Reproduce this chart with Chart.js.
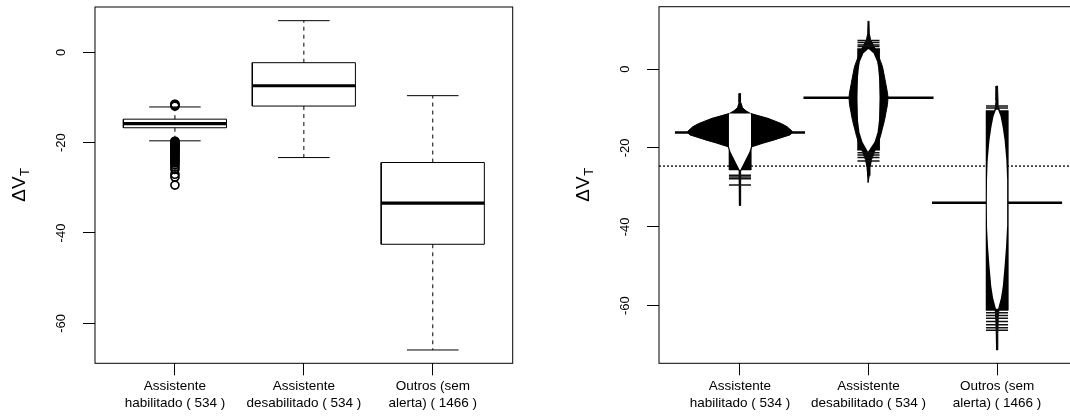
<!DOCTYPE html>
<html>
<head>
<meta charset="utf-8">
<script src="https://cdn.jsdelivr.net/npm/chart.js@4.4.1/dist/chart.umd.min.js"></script>
<style>
  html, body { margin: 0; padding: 0; background: #fff; overflow: hidden; width: 1070px; height: 416px; }
  .panel { position: absolute; top: 0; height: 416px; }
  #leftPanel  { left: 0;     width: 540px; }
  #rightPanel { left: 540px; width: 545px; }
  canvas { display: block; }
</style>
</head>
<body>
<div class="panel" id="leftPanel"><canvas id="boxChart" width="540" height="416"></canvas></div>
<div class="panel" id="rightPanel"><canvas id="beanChart" width="545" height="416"></canvas></div>
<script>
// ── Categories / ticks ────────────────────────────────────────────────────────
const GROUP_LINE1 = ["Assistente", "Assistente", "Outros (sem"];
const GROUP_LINE2 = ["habilitado", "desabilitado", "alerta)"];
const GROUP_N     = [534, 534, 1466];
const Y_TICKS     = [0, -20, -40, -60];
const AXIS_TITLE  = "ΔV";
const AXIS_SUB    = "T";

// ── Boxplot stats (left panel) ────────────────────────────────────────────────
const BOX_LOW  = [-19.6, -23.3, -65.9];
const BOX_Q1   = [-16.7, -11.9, -42.5];
const BOX_MED  = [-15.8,  -7.4, -33.4];
const BOX_Q3   = [-14.8,  -2.3, -24.4];
const BOX_HIGH = [-12.1,   7.0,  -9.6];
const OUT_HAB_HIGH = [-11.5, -11.6, -11.8, -11.9];
const OUT_HAB_LOW  = [-19.7, -19.85, -20.0, -20.2, -20.35, -20.5, -20.7, -20.9, -21.1, -21.3,
                      -21.5, -21.7, -22.0, -22.2, -22.5, -22.7, -23.0, -23.3, -23.6, -23.9,
                      -24.2, -24.5, -24.9, -25.4, -25.9, -27.0, -27.6, -29.4];

// ── Beanplot (right panel) ────────────────────────────────────────────────────
const OVERALL_MEAN = -24.6;
const BEAN_MEAN    = [-16.1, -7.3, -33.9];
// density outline: y values and relative half width (1 = widest bean)
const DENS1_Y = [-6.2, -8.5, -9.8, -10.6, -11.2, -11.8, -12.5, -13.8, -14.6, -15.5, -16.0, -16.7, -18.0, -18.8, -19.7, -21.0, -22.5, -24.0, -25.2, -26.0, -30.0, -34.6];
const DENS1_W = [0.011, 0.017, 0.047, 0.113, 0.189, 0.34, 0.528, 0.774, 0.887, 0.962, 1.0, 0.943, 0.642, 0.434, 0.226, 0.179, 0.123, 0.066, 0.025, 0.015, 0.011, 0.009];
const DENS2_Y = [12.2, 9.0, 7.5, 6.0, 4.0, 2.0, 0.6, -2.0, -4.0, -6.0, -7.3, -9.0, -11.0, -13.0, -15.0, -17.0, -19.0, -21.0, -23.0, -25.0, -27.0, -28.8];
const DENS2_W = [0.009, 0.015, 0.038, 0.094, 0.17, 0.226, 0.264, 0.302, 0.33, 0.358, 0.368, 0.358, 0.33, 0.302, 0.264, 0.226, 0.179, 0.113, 0.057, 0.028, 0.015, 0.009];
const DENS3_Y = [-4.3, -8.0, -9.5, -12.0, -14.6, -18.0, -23.0, -28.0, -34.0, -40.0, -45.0, -50.0, -55.0, -58.0, -60.6, -63.0, -67.0, -71.2];
const DENS3_W = [0.009, 0.019, 0.028, 0.066, 0.104, 0.142, 0.175, 0.189, 0.192, 0.189, 0.17, 0.142, 0.109, 0.075, 0.038, 0.023, 0.015, 0.009];
// white part of the bean lines (inside the density)
const WHITE1_Y = [-11.3, -19.7, -21.0, -22.5, -24.0, -25.6];
const WHITE1_W = [0.208, 0.208, 0.179, 0.123, 0.066, 0.006];
const WHITE2_Y = [5.0, 4.0, 2.0, 0.6, -2.0, -7.3, -13.0, -16.0, -18.5, -21.0];
const WHITE2_W = [0.009, 0.094, 0.16, 0.179, 0.198, 0.208, 0.198, 0.17, 0.113, 0.009];
const WHITE3_Y = [-10.3, -12.0, -14.6, -18.0, -23.0, -28.0, -34.0, -40.0, -45.0, -50.0, -55.0, -58.0, -60.8];
const WHITE3_W = [0.02, 0.066, 0.104, 0.142, 0.175, 0.189, 0.192, 0.189, 0.17, 0.142, 0.109, 0.075, 0.02];
// dense band of bean lines, and isolated lines outside it
const BAND_TOP    = [-11.3,  5.2, -10.5];
const BAND_BOTTOM = [-25.6, -20.6, -61.2];
const STRIPES1 = [-26.9, -27.4, -27.8, -29.4];
const STRIPES2 = [7.2, 6.7, 6.1, 5.7, -21.2, -21.8, -22.4, -23.3];
const STRIPES3 = [-9.4, -9.9, -61.8, -62.5, -63.2, -64.0, -64.8, -65.6, -66.2];

// ── Layout / style constants ──────────────────────────────────────────────────
const FONT = "'Liberation Sans', Arial, Helvetica, sans-serif";
const BOX_HALF   = 0.4;     // boxwex 0.8
const CAP_HALF   = 0.2;
const BEAN_SCALE = 0.4125;  // x units for relative width 1
const LINE_HALF  = 0.208;   // relative half width of bean lines
const AVG_HALF   = 0.506;   // bean average line half width

const pts = arr => arr.map(([x, y]) => ({ x, y }));
const seg = (points, extra) => Object.assign({
  data: pts(points), borderColor: "#000", borderWidth: 1, pointRadius: 0, fill: false, tension: 0
}, extra);

// ── Shared plugin: frame, rotated y labels, axis title ────────────────────────
const framePlugin = {
  id: "frame",
  afterDraw(chart) {
    const { ctx, chartArea: a, scales: { y } } = chart;
    ctx.save();
    ctx.strokeStyle = "#000";
    ctx.lineWidth = 1;
    ctx.strokeRect(a.left, a.top, a.right - a.left, a.bottom - a.top);

    ctx.fillStyle = "#000";
    ctx.font = `13px ${FONT}`;
    ctx.textAlign = "center";
    ctx.textBaseline = "middle";
    y.ticks.forEach(t => {
      ctx.save();
      ctx.translate(a.left - 33.5, y.getPixelForValue(t.value));
      ctx.rotate(-Math.PI / 2);
      ctx.fillText(String(t.value), 0, 0);
      ctx.restore();
    });

    // ΔV with subscript T
    ctx.translate(a.left - 75, (a.top + a.bottom) / 2);
    ctx.rotate(-Math.PI / 2);
    ctx.textAlign = "left";
    ctx.font = `19px ${FONT}`;
    const w1 = ctx.measureText(AXIS_TITLE).width;
    ctx.font = `13px ${FONT}`;
    const w2 = ctx.measureText(AXIS_SUB).width;
    const x0 = -(w1 + w2) / 2;
    ctx.font = `19px ${FONT}`;
    ctx.fillText(AXIS_TITLE, x0, 0);
    ctx.font = `13px ${FONT}`;
    ctx.fillText(AXIS_SUB, x0 + w1 + 0.5, 5);
    ctx.restore();
  }
};

function makeOptions(xMin, xMax, yMin, yMax, yAxisWidth, pad) {
  const grid = { display: true, drawOnChartArea: false, drawTicks: true, tickLength: 12, color: "#000", lineWidth: 1 };
  return {
    responsive: false,
    animation: false,
    events: [],
    layout: { padding: pad },
    plugins: { legend: { display: false }, tooltip: { enabled: false } },
    scales: {
      x: {
        type: "linear", min: xMin, max: xMax,
        afterBuildTicks: s => { s.ticks = GROUP_N.map((_, i) => ({ value: i + 1 })); },
        afterFit: s => { s.height = 52.7; },
        grid, border: { display: false },
        ticks: {
          color: "#000", padding: 3, maxRotation: 0, autoSkip: false,
          font: { family: FONT, size: 13.5, lineHeight: 1.237 },
          callback: v => {
            const i = Math.round(v) - 1;
            return [GROUP_LINE1[i], `${GROUP_LINE2[i]} ( ${GROUP_N[i]} )`];
          }
        }
      },
      y: {
        type: "linear", min: yMin, max: yMax,
        afterBuildTicks: s => { s.ticks = Y_TICKS.map(v => ({ value: v })); },
        afterFit: s => { s.width = yAxisWidth; },
        grid, border: { display: false },
        ticks: { display: false }
      }
    }
  };
}

// ── Left: boxplot ─────────────────────────────────────────────────────────────
const boxSets = [];
GROUP_N.forEach((_, i) => {
  const c = i + 1;
  boxSets.push(seg([[c - BOX_HALF, BOX_Q1[i]], [c + BOX_HALF, BOX_Q1[i]], [c + BOX_HALF, BOX_Q3[i]],
                    [c - BOX_HALF, BOX_Q3[i]], [c - BOX_HALF, BOX_Q1[i]]]));
  boxSets.push(seg([[c - BOX_HALF, BOX_MED[i]], [c + BOX_HALF, BOX_MED[i]]], { borderWidth: 3.2 }));
  boxSets.push(seg([[c, BOX_Q3[i]], [c, BOX_HIGH[i]]], { borderDash: [4, 4] }));
  boxSets.push(seg([[c, BOX_Q1[i]], [c, BOX_LOW[i]]], { borderDash: [4, 4] }));
  boxSets.push(seg([[c - CAP_HALF, BOX_HIGH[i]], [c + CAP_HALF, BOX_HIGH[i]]]));
  boxSets.push(seg([[c - CAP_HALF, BOX_LOW[i]], [c + CAP_HALF, BOX_LOW[i]]]));
});
boxSets.push({
  data: OUT_HAB_HIGH.concat(OUT_HAB_LOW).map(v => ({ x: 1, y: v })),
  showLine: false, pointRadius: 4, pointStyle: "circle",
  pointBorderColor: "#000", pointBackgroundColor: "rgba(0,0,0,0)", pointBorderWidth: 1.7
});

new Chart(document.getElementById("boxChart"), {
  type: "line",
  data: { datasets: boxSets },
  options: makeOptions(0.38, 3.62, -68.85, 10.03, 95, { left: 0, top: 7, right: 27.3, bottom: 0 }),
  plugins: [framePlugin]
});

// ── Right: beanplot ───────────────────────────────────────────────────────────
function beanPoly(c, ys, ws) {
  const left  = ys.map((y, k) => [c - ws[k] * BEAN_SCALE, y]);
  const right = ys.map((y, k) => [c + ws[k] * BEAN_SCALE, y]).reverse();
  return left.concat(right, [left[0]]);
}
const DENS_Y  = [DENS1_Y, DENS2_Y, DENS3_Y];
const DENS_W  = [DENS1_W, DENS2_W, DENS3_W];
const WHITE_Y = [WHITE1_Y, WHITE2_Y, WHITE3_Y];
const WHITE_W = [WHITE1_W, WHITE2_W, WHITE3_W];
const STRIPES = [STRIPES1, STRIPES2, STRIPES3];

const beanLayers = [];   // bottom first
beanLayers.push(seg([[0.37, OVERALL_MEAN], [3.63, OVERALL_MEAN]], { borderDash: [2, 2], borderWidth: 1.3 }));
GROUP_N.forEach((_, i) => {
  const c = i + 1;
  beanLayers.push(seg([[c - AVG_HALF, BEAN_MEAN[i]], [c + AVG_HALF, BEAN_MEAN[i]]], { borderWidth: 2.6 }));
});
GROUP_N.forEach((_, i) => {
  const c = i + 1;
  const lw = LINE_HALF * BEAN_SCALE;
  beanLayers.push(seg(beanPoly(c, DENS_Y[i], DENS_W[i]), { fill: "shape", backgroundColor: "#000", borderWidth: 1 }));
  beanLayers.push(seg([[c - lw, BAND_TOP[i]], [c + lw, BAND_TOP[i]], [c + lw, BAND_BOTTOM[i]],
                       [c - lw, BAND_BOTTOM[i]], [c - lw, BAND_TOP[i]]],
                      { fill: "shape", backgroundColor: "#000", borderWidth: 0.5 }));
  beanLayers.push(seg(beanPoly(c, WHITE_Y[i], WHITE_W[i]),
                      { fill: "shape", backgroundColor: "#fff", borderColor: "rgba(0,0,0,0)", borderWidth: 0.1 }));
  STRIPES[i].forEach(v => {
    beanLayers.push(seg([[c - lw, v], [c + lw, v]], { borderWidth: 1.5, borderColor: "#111" }));
  });
});
beanLayers.forEach((d, k) => { d.order = beanLayers.length - k; });

new Chart(document.getElementById("beanChart"), {
  type: "line",
  data: { datasets: beanLayers },
  options: makeOptions(0.37, 3.63, -74.6, 15.8, 119, { left: 0, top: 6.7, right: 7, bottom: 0 }),
  plugins: [framePlugin]
});
</script>
</body>
</html>
